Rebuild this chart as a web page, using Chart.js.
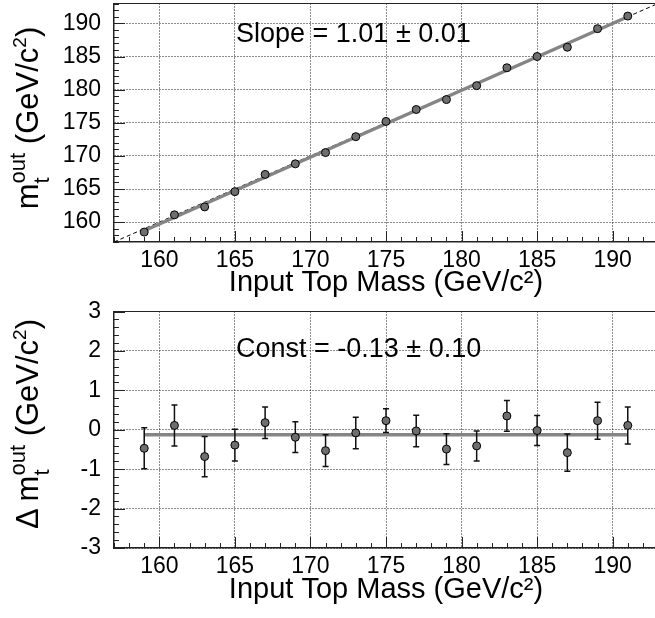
<!DOCTYPE html>
<html>
<head>
<meta charset="utf-8">
<script src="https://cdn.jsdelivr.net/npm/chart.js@4/dist/chart.umd.min.js"></script>
<style>
  html, body { margin: 0; padding: 0; background: #fff; overflow: hidden; }
  #wrap { position: relative; width: 655px; height: 618px; overflow: hidden; }
  canvas { position: absolute; left: 0; }
  .txt { position: absolute; font-family: 'Liberation Sans', Arial, sans-serif; color: #000; white-space: nowrap; line-height: 1; }
  .ytitle { font-size: 31px; transform: translate(-50%, -50%) rotate(-90deg); }
  .stack { display: inline-block; font-size: 22px; line-height: 24px; vertical-align: -11px; }
  .stack span { display: block; }
  .ytitle sup { font-size: 19px; vertical-align: 12px; line-height: 0; }
  .note { font-size: 27px; }
</style>
</head>
<body>
<div id="wrap">
  <canvas id="massCanvas" width="658" height="300" style="top:0"></canvas>
  <canvas id="residCanvas" width="658" height="318" style="top:300px"></canvas>
  <div class="txt ytitle" style="left:30px;top:118px">m<span class="stack"><span>out</span><span>t</span></span> (GeV/c<sup>2</sup>)</div>
  <div class="txt ytitle" style="left:30px;top:424px">&Delta; m<span class="stack"><span>out</span><span>t</span></span> (GeV/c<sup>2</sup>)</div>
  <div class="txt note" style="left:236px;top:20px">Slope = 1.01 &plusmn; 0.01</div>
  <div class="txt note" style="left:236px;top:335px">Const = -0.13 &plusmn; 0.10</div>
</div>
<script>
const inputMass = [159, 161, 163, 165, 167, 169, 171, 173, 175, 177, 179, 181, 183, 185, 187, 189, 191];
const outputMass = [158.5, 161.1, 162.3, 164.6, 167.2, 168.8, 170.5, 172.9, 175.2, 177.0, 178.5, 180.6, 183.3, 185.0, 186.4, 189.2, 191.1];
const residual = [-0.47, 0.11, -0.68, -0.39, 0.18, -0.19, -0.53, -0.08, 0.23, -0.03, -0.49, -0.41, 0.35, -0.02, -0.58, 0.23, 0.11];
const residualErr = [0.52, 0.52, 0.51, 0.40, 0.40, 0.39, 0.40, 0.40, 0.30, 0.40, 0.39, 0.38, 0.39, 0.38, 0.47, 0.47, 0.47];

const fitX = [159, 191];
const slopeFitY = [158.7, 191.0];
const constFitY = [-0.13, -0.13];
const diagonal = [157, 193];

const xTicks = [160, 165, 170, 175, 180, 185, 190];
const topYTicks = [160, 165, 170, 175, 180, 185, 190];
const bottomYTicks = [-3, -2, -1, 0, 1, 2, 3];

const FONT = "'Liberation Sans', Arial, sans-serif";
const AXIS = '#222';

const pairs = (xs, ys) => xs.map((x, i) => ({x: x, y: ys[i]}));

// ROOT style: minor and major ticks pointing into the frame, plus a closed frame
const innerTicks = {
    id: 'innerTicks',
    afterDraw(chart, args, opts) {
        const {ctx, chartArea: a, scales: {x, y}} = chart;
        ctx.save();
        ctx.strokeStyle = AXIS;
        ctx.lineWidth = 1.2;
        ctx.beginPath();
        ctx.moveTo(a.left, a.top);
        ctx.lineTo(a.right, a.top);
        ctx.lineTo(a.right, a.bottom);
        ctx.stroke();

        ctx.lineWidth = 1;
        ctx.beginPath();
        for (let v = Math.ceil(x.min); v <= x.max; v += 1) {
            const px = Math.round(x.getPixelForValue(v)) + 0.5;
            const len = v % 5 === 0 ? 11 : 5;
            ctx.moveTo(px, a.bottom);
            ctx.lineTo(px, a.bottom - len);
        }
        const n = Math.round((y.max - y.min) / opts.minor);
        for (let i = 0; i <= n; i++) {
            const v = y.min + i * opts.minor;
            const py = Math.round(y.getPixelForValue(v)) + 0.5;
            const k = v / opts.major;
            const len = Math.abs(k - Math.round(k)) < 1e-6 ? 11 : 5;
            ctx.moveTo(a.left, py);
            ctx.lineTo(a.left + len, py);
        }
        ctx.stroke();
        ctx.restore();
    }
};

const errorBars = {
    id: 'errorBars',
    beforeDatasetDraw(chart, args, opts) {
        if (!opts.errors || args.index !== 0) return;
        const {ctx, scales: {x, y}} = chart;
        const ds = chart.data.datasets[0].data;
        ctx.save();
        ctx.strokeStyle = '#111';
        ctx.lineWidth = 1.5;
        ctx.beginPath();
        ds.forEach((p, i) => {
            const e = opts.errors[i];
            const px = x.getPixelForValue(p.x);
            const y1 = y.getPixelForValue(p.y + e);
            const y2 = y.getPixelForValue(p.y - e);
            ctx.moveTo(px, y1); ctx.lineTo(px, y2);
            ctx.moveTo(px - 3, y1); ctx.lineTo(px + 3, y1);
            ctx.moveTo(px - 3, y2); ctx.lineTo(px + 3, y2);
        });
        ctx.stroke();
        ctx.restore();
    }
};

function makeChart(id, cfg) {
    const grid = {color: 'rgba(0,0,0,0.9)', lineWidth: 1, drawTicks: false};
    return new Chart(document.getElementById(id), {
        type: 'scatter',
        data: {
            datasets: [
                {
                    data: pairs(inputMass, cfg.values),
                    pointRadius: 4,
                    pointBackgroundColor: '#6e6e6e',
                    pointBorderColor: '#000',
                    pointBorderWidth: 1
                },
                {
                    type: 'line',
                    data: pairs(fitX, cfg.fit),
                    borderColor: '#858585',
                    borderWidth: 3.5,
                    pointRadius: 0
                },
                {
                    type: 'line',
                    data: cfg.diagonal ? pairs(diagonal, diagonal) : [],
                    borderColor: '#000',
                    borderWidth: 1,
                    borderDash: [4, 3],
                    pointRadius: 0
                }
            ]
        },
        options: {
            responsive: false,
            animation: false,
            layout: {autoPadding: false, padding: {top: cfg.top, left: 0, right: 0, bottom: 0}},
            plugins: {
                legend: {display: false},
                tooltip: {enabled: false},
                innerTicks: {minor: cfg.minor, major: cfg.major},
                errorBars: {errors: cfg.errors}
            },
            scales: {
                x: {
                    type: 'linear',
                    min: 157,
                    max: 193,
                    afterBuildTicks: s => { s.ticks = xTicks.map(v => ({value: v})); },
                    afterFit: s => { s.height = cfg.xHeight; s.paddingLeft = 0; s.paddingRight = 0; },
                    grid: grid,
                    border: {display: true, color: AXIS, width: 1.5, dash: [1, 2]},
                    ticks: {color: '#000', font: {family: FONT, size: 23}, padding: 5, maxRotation: 0},
                    title: {
                        display: true,
                        text: 'Input Top Mass (GeV/c\u00B2)',
                        color: '#000',
                        font: {family: FONT, size: 29},
                        padding: {top: 0, bottom: cfg.titlePad}
                    }
                },
                y: {
                    type: 'linear',
                    min: cfg.yMin,
                    max: cfg.yMax,
                    afterBuildTicks: s => { s.ticks = cfg.yTicks.map(v => ({value: v})); },
                    afterFit: s => { s.width = 114; s.paddingTop = 0; s.paddingBottom = 0; },
                    grid: grid,
                    border: {display: true, color: AXIS, width: 1.5, dash: [1, 2]},
                    ticks: {color: '#000', font: {family: FONT, size: 23}, padding: 13}
                }
            }
        },
        plugins: [innerTicks, errorBars]
    });
}

const massChart = makeChart('massCanvas', {
    values: outputMass,
    fit: slopeFitY,
    diagonal: true,
    yMin: 157, yMax: 193,
    yTicks: topYTicks,
    minor: 1, major: 5,
    top: 3.5,
    xHeight: 58,
    titlePad: 0
});

const residChart = makeChart('residCanvas', {
    values: residual,
    errors: residualErr,
    fit: constFitY,
    diagonal: false,
    yMin: -3, yMax: 3,
    yTicks: bottomYTicks,
    minor: 0.2, major: 1,
    top: 11.5,
    xHeight: 70,
    titlePad: 11
});
</script>
</body>
</html>
